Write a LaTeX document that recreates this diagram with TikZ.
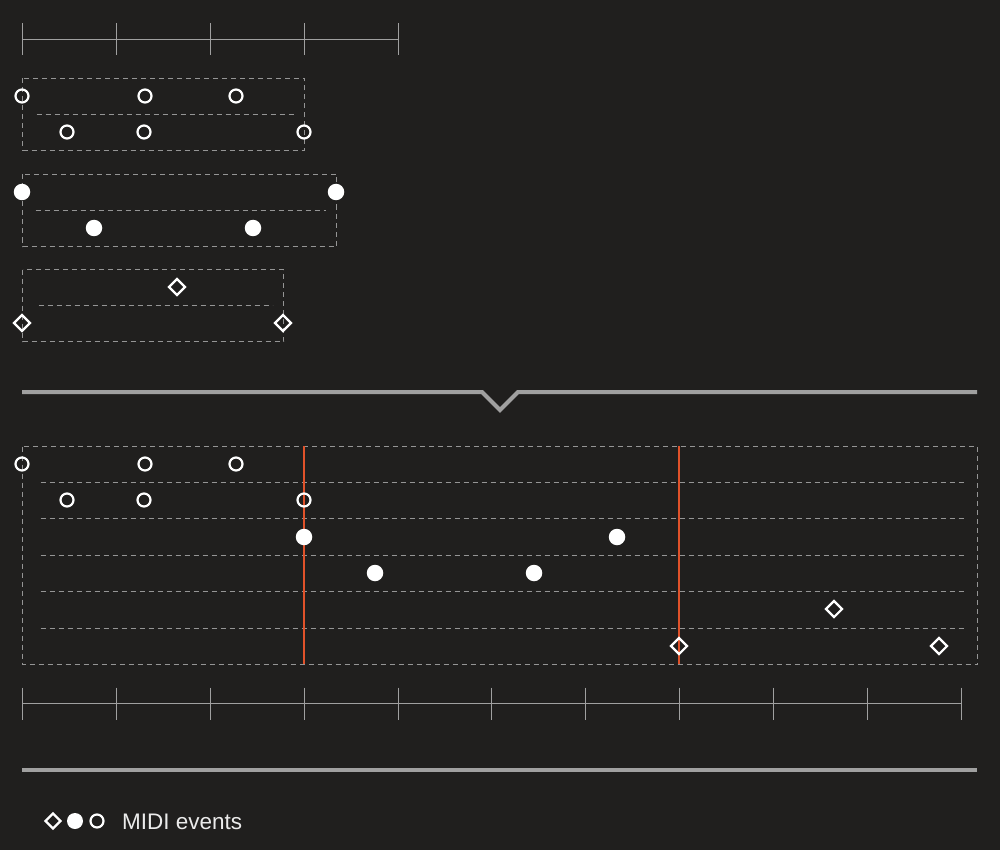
\documentclass[tikz,border=0pt]{standalone}
\usepackage{fontspec}
\setmainfont{Liberation Sans}
\usetikzlibrary{shapes.geometric}
\definecolor{bg}{HTML}{201F1E}
\definecolor{rulegray}{HTML}{A0A0A0}
\definecolor{dashgray}{HTML}{959595}
\definecolor{accent}{HTML}{E0522A}
\tikzset{
  ev/.style={circle,draw=white,line width=2.2pt,minimum size=13pt,inner sep=0pt},
  evfill/.style={circle,fill=white,minimum size=16.5pt,inner sep=0pt},
  evdia/.style={diamond,draw=white,line width=2.2pt,minimum size=17pt,inner sep=0pt},
  grp/.style={draw=dashgray,line width=1.3pt,dash pattern=on 5pt off 4pt},
  ruler/.style={draw=rulegray,line width=1.3pt},
  divider/.style={draw=rulegray,line width=4pt},
  marker/.style={draw=accent,line width=2pt},
}
\begin{document}
\begin{tikzpicture}[x=1pt,y=-1pt]
\fill[bg] (0,0) rectangle (1000,850);
\useasboundingbox (0,0) rectangle (1000,850);

\begin{scope}[shift={(0.5,0.5)}]
% top ruler
\draw[ruler] (22,39) -- (398,39);
\foreach \x in {22,116,210,304,398} \draw[ruler] (\x,23) -- (\x,55);

% group frames
\draw[grp] (22,78) rectangle (304,150);
\draw[grp] (36,114) -- (293,114);
\draw[grp] (22,174) rectangle (336,246);
\draw[grp] (35,210) -- (325,210);
\draw[grp] (22,269) rectangle (283,341);
\draw[grp] (38,305) -- (272,305);

% merged track frame
\draw[grp] (22,446) rectangle (977,664);
\foreach \y in {482,518,555,591,628} \draw[grp] (40,\y) -- (966,\y);

% bottom ruler
\draw[ruler] (22,703) -- (961,703);
\foreach \x in {22,116,210,304,398,491,585,679,773,867,961} \draw[ruler] (\x,687) -- (\x,719);
\end{scope}

% group 1
\node[ev] (a1) at (22,96) {};
\node[ev] (a2) at (145,96) {};
\node[ev] (a3) at (236,96) {};
\node[ev] (a4) at (67,132) {};
\node[ev] (a5) at (144,132) {};
\node[ev] (a6) at (304,132) {};

% group 2
\node[evfill] (b1) at (22,192) {};
\node[evfill] (b2) at (336,192) {};
\node[evfill] (b3) at (94,228) {};
\node[evfill] (b4) at (253,228) {};

% group 3
\node[evdia] (c1) at (177,287) {};
\node[evdia] (c2) at (22,323) {};
\node[evdia] (c3) at (283,323) {};

% divider with chevron
\draw[divider,line join=miter] (22,392) -- (482,392) -- (500,410) -- (518,392) -- (977,392);

% playhead markers
\draw[marker] (304,446) -- (304,664);
\draw[marker] (679,446) -- (679,664);

\node[ev] (m1) at (22,464) {};
\node[ev] (m2) at (145,464) {};
\node[ev] (m3) at (236,464) {};
\node[ev] (m4) at (67,500) {};
\node[ev] (m5) at (144,500) {};
\node[ev] (m6) at (304,500) {};
\node[evfill] (m7) at (304,537) {};
\node[evfill] (m8) at (617,537) {};
\node[evfill] (m9) at (375,573) {};
\node[evfill] (m10) at (534,573) {};
\node[evdia] (m11) at (834,609) {};
\node[evdia] (m12) at (679,646) {};
\node[evdia] (m13) at (939,646) {};

% bottom divider
\draw[divider] (22,770) -- (977,770);

% legend
\node[evdia,minimum size=16pt] (l1) at (53,821) {};
\node[evfill,minimum size=16pt] (l2) at (75,821) {};
\node[ev] (l3) at (97,821) {};
\node[anchor=west,text=white!92!black,font=\fontsize{22.5}{26}\selectfont,inner sep=0pt] (lt) at (122,822) {MIDI events};
\end{tikzpicture}
\end{document}
